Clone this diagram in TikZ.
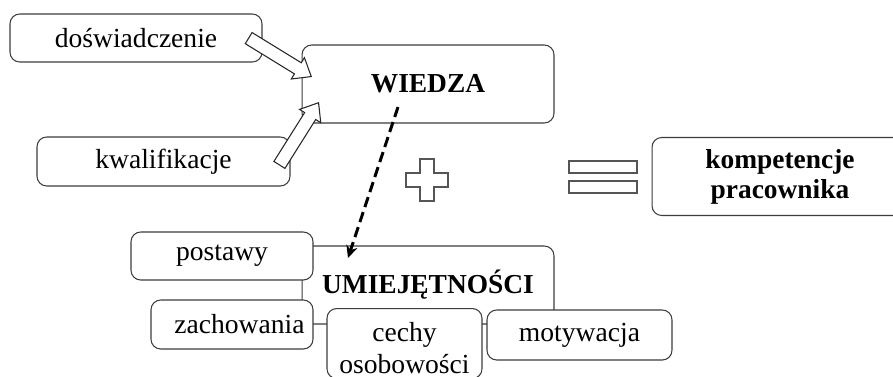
\documentclass[tikz,border=0pt]{standalone}
\usepackage{fontspec}
\setmainfont{Liberation Serif}
\usetikzlibrary{shapes.arrows,arrows.meta}
\definecolor{boxgray}{RGB}{60,60,60}
\definecolor{signgray}{RGB}{85,85,85}
\tikzset{
    txt/.style={font=\fontsize{15.7}{17}\selectfont},
    box/.style={txt, draw=boxgray, line width=0.6pt, fill=white, rounded corners=5.5pt, inner sep=0pt, align=center},
    bold box/.style={box, font=\fontsize{15.6}{17}\selectfont\bfseries},
    fat arrow/.style={single arrow, draw=black!85, line width=0.6pt, fill=white, inner xsep=0pt, inner ysep=0.12cm,
        minimum height=1.47cm, single arrow head extend=0.12cm,
        single arrow tip angle=77, sloped, pos=1, anchor=tip},
    sign/.style={draw=signgray, line width=0.6pt},
}

\begin{document}
\begin{tikzpicture}[x=0.02cm, y=-0.02cm]
    % Knowledge plus skills give the competences of an employee.
    \useasboundingbox (0,0) rectangle (893,376);
    \clip (0,0) rectangle (893,376);
    \node[bold box, minimum width=5.04cm, minimum height=1.56cm] (umiej) at (428,285) {UMIEJĘTNOŚCI};
    \node[bold box, minimum width=5.04cm, minimum height=1.56cm] (wiedza) at (428,84) {WIEDZA};
    \node[box, minimum width=5.04cm, minimum height=0.96cm] (dosw) at (136,38) {doświadczenie};
    \node[box, minimum width=5.06cm, minimum height=0.98cm] (kwal) at (163.5,161.5) {kwalifikacje};
    \node[box, minimum width=3.64cm, minimum height=0.96cm] (postawy) at (222,256) {postawy};
    \node[box, minimum width=3.24cm, minimum height=0.98cm] (zach) at (232,324.5) {\hspace*{0.3cm}zachowania};
    \node[box, anchor=north, minimum width=3.1cm, minimum height=1.4cm, font=\fontsize{15.7}{18.2}\selectfont] (cechy) at (404.5,308) {\rule{0pt}{0.55cm}cechy\\osobowości};
    \node[box, minimum width=3.7cm, minimum height=1.0cm] (motyw) at (579.5,335) {motywacja};
    \node[bold box, minimum width=5.12cm, minimum height=1.56cm] (komp) at (780,176.5) {kompetencje\\pracownika};

    \coordinate (a1) at (248.5,38);
    \coordinate (a1tip) at (312,77);
    \path (a1) -- (a1tip) node[fat arrow] {};
    \coordinate (a2) at (280,164);
    \coordinate (a2tip) at (319,102);
    \path (a2) -- (a2tip) node[fat arrow] {};

    \coordinate (d1) at (398,107);
    \coordinate (d2) at (348,258);
    \draw[line width=1.7pt, dash pattern=on 6pt off 3pt, -{Stealth[length=7pt,width=6.5pt]}] (d1) -- (d2);

    \draw[sign] (420,159) -- (434,159) -- (434,173) -- (448,173) -- (448,187) -- (434,187)
        -- (434,201) -- (420,201) -- (420,187) -- (406,187) -- (406,173) -- (420,173) -- cycle;
    \draw[sign] (569,161) rectangle (637,173);
    \draw[sign] (569,181) rectangle (637,193);
\end{tikzpicture}
\end{document}
